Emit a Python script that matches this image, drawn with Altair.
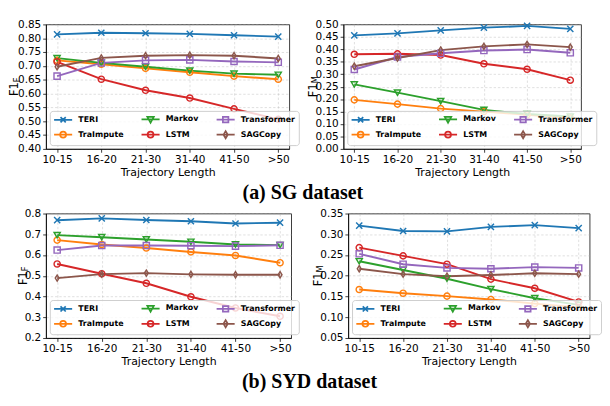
import altair as alt
import pandas as pd

categories = ["10-15", "16-20", "21-30", "31-40", "41-50", ">50"]
series = ["TERI", "TraImpute", "Markov", "LSTM", "Transformer", "SAGCopy"]
series_colors = ["#1f77b4", "#ff7f0e", "#2ca02c", "#d62728", "#9467bd", "#8c564b"]

sg_f1f = {
    "TERI": [0.814, 0.820, 0.818, 0.816, 0.811, 0.806],
    "TraImpute": [0.720, 0.706, 0.691, 0.677, 0.663, 0.652],
    "Markov": [0.728, 0.711, 0.697, 0.683, 0.672, 0.668],
    "LSTM": [0.715, 0.652, 0.612, 0.584, 0.545, 0.507],
    "Transformer": [0.663, 0.711, 0.720, 0.722, 0.716, 0.713],
    "SAGCopy": [0.697, 0.729, 0.737, 0.739, 0.737, 0.727],
}
sg_f1m = {
    "TERI": [0.456, 0.464, 0.476, 0.487, 0.494, 0.482],
    "TraImpute": [0.197, 0.180, 0.162, 0.150, 0.137, 0.124],
    "Markov": [0.259, 0.226, 0.192, 0.157, 0.140, 0.130],
    "LSTM": [0.380, 0.382, 0.377, 0.342, 0.320, 0.276],
    "Transformer": [0.319, 0.369, 0.384, 0.395, 0.399, 0.386],
    "SAGCopy": [0.332, 0.365, 0.397, 0.412, 0.420, 0.409],
}
syd_f1f = {
    "TERI": [0.768, 0.777, 0.769, 0.763, 0.752, 0.756],
    "TraImpute": [0.672, 0.651, 0.634, 0.615, 0.598, 0.563],
    "Markov": [0.696, 0.686, 0.675, 0.664, 0.651, 0.648],
    "LSTM": [0.557, 0.510, 0.464, 0.399, 0.345, 0.305],
    "Transformer": [0.624, 0.646, 0.646, 0.645, 0.643, 0.647],
    "SAGCopy": [0.489, 0.508, 0.513, 0.507, 0.505, 0.505],
}
syd_f1m = {
    "TERI": [0.321, 0.308, 0.307, 0.318, 0.322, 0.315],
    "TraImpute": [0.167, 0.158, 0.151, 0.143, 0.133, 0.124],
    "Markov": [0.235, 0.214, 0.193, 0.168, 0.146, 0.130],
    "LSTM": [0.268, 0.248, 0.228, 0.192, 0.170, 0.137],
    "Transformer": [0.253, 0.228, 0.219, 0.217, 0.221, 0.219],
    "SAGCopy": [0.217, 0.204, 0.199, 0.202, 0.206, 0.204],
}

y_ticks_sg_f = [0.40, 0.45, 0.50, 0.55, 0.60, 0.65, 0.70, 0.75, 0.80, 0.85]
y_ticks_sg_m = [0.00, 0.05, 0.10, 0.15, 0.20, 0.25, 0.30, 0.35, 0.40, 0.45, 0.50]
y_ticks_syd_f = [0.2, 0.3, 0.4, 0.5, 0.6, 0.7, 0.8]
y_ticks_syd_m = [0.05, 0.10, 0.15, 0.20, 0.25, 0.30, 0.35]

x_title = "Trajectory Length"
captions = ["(a) SG dataset", "(b) SYD dataset"]
y_main = "F1"
y_subs = ["F", "M"]

# marker shapes (style)
marker_paths = {
    "TERI": "M-1,-1L1,1M-1,1L1,-1",
    "TraImpute": "circle",
    "Markov": "triangle-down",
    "LSTM": "circle",
    "Transformer": "square",
    "SAGCopy": "M0,-1L0.62,0L0,1L-0.62,0Z",
}
# legend symbols: a line segment with the marker in the middle
LINE = "M-1.9,0L1.9,0"
CIRC = "M0.62,0A0.62,0.62,0,1,1,-0.62,0A0.62,0.62,0,1,1,0.62,0"
legend_paths = {
    "TERI": LINE + "M-0.55,-0.55L0.55,0.55M-0.55,0.55L0.55,-0.55",
    "TraImpute": LINE + CIRC,
    "Markov": LINE + "M-0.68,-0.55L0.68,-0.55L0,0.68Z",
    "LSTM": LINE + CIRC,
    "Transformer": LINE + "M-0.58,-0.58L0.58,-0.58L0.58,0.58L-0.58,0.58Z",
    "SAGCopy": LINE + "M0,-0.75L0.45,0L0,0.75L-0.45,0Z",
}

stroke_scale = alt.Scale(domain=series, range=series_colors)
color_scale = alt.Scale(domain=series, range=series_colors)
shape_scale = alt.Scale(domain=series, range=[legend_paths[s] for s in series])


def to_df(vals):
    rows = []
    for s in series:
        for c, v in zip(categories, vals[s]):
            rows.append({"series": s, "cat": c, "val": v})
    return pd.DataFrame(rows)


def make_legend():
    return alt.Legend(
        title=None, orient="bottom-left", offset=4, columns=3,
        labelFont="DejaVu Sans", labelFontWeight="bold", labelFontSize=8.3,
        labelColor="black", labelOffset=10, symbolSize=100, symbolStrokeWidth=1.8,
        symbolOffset=5, columnPadding=14, rowPadding=1, padding=3,
        fillColor="rgba(255,255,255,0.8)", strokeColor="#cccccc", cornerRadius=3,
    )


def panel(vals, ticks, fmt, sub, width, height, title_x):
    df = to_df(vals)
    x = alt.X("cat:N", sort=categories,
              scale=alt.Scale(type="point", padding=0.25, domain=categories),
              axis=alt.Axis(title=x_title, labelAngle=0, grid=True, titlePadding=2))
    y = alt.Y("val:Q", scale=alt.Scale(domain=[ticks[0], ticks[-1]], nice=False, zero=False),
              axis=alt.Axis(values=ticks, format=fmt, title=None, grid=True))
    stroke = alt.Stroke("series:N", scale=stroke_scale, legend=None)
    base = alt.Chart(df)
    lines = base.mark_line(strokeWidth=2).encode(x=x, y=y, stroke=stroke)
    pts = [
        base.transform_filter(alt.datum.series == s)
        .mark_point(shape=marker_paths[s], filled=False, size=42, strokeWidth=1.5, opacity=1)
        .encode(x=x, y=y, stroke=stroke)
        for s in series
    ]
    leg = base.transform_filter("false").mark_point(filled=False, opacity=1).encode(
        x=x, y=y,
        color=alt.Color("series:N", scale=color_scale, legend=make_legend()),
        shape=alt.Shape("series:N", scale=shape_scale, legend=make_legend()),
    )
    sub_len = 5.0 if sub == "F" else 7.5
    total = 14.5 + sub_len
    start = height / 2 + total / 2
    t_main = alt.Chart(pd.DataFrame({"t": [y_main]})).mark_text(
        angle=270, align="left", baseline="middle", font="DejaVu Sans", fontSize=12, color="black"
    ).encode(x=alt.value(title_x), y=alt.value(start), text="t:N")
    t_sub = alt.Chart(pd.DataFrame({"t": [sub]})).mark_text(
        angle=270, align="left", baseline="middle", font="DejaVu Sans", fontSize=8.5, color="black"
    ).encode(x=alt.value(title_x + 2.5), y=alt.value(start - 14.5), text="t:N")
    return alt.layer(lines, *pts, leg, t_main, t_sub).properties(width=width, height=height)


def cap(text):
    return alt.TitleParams(text, orient="bottom", anchor="middle", frame="bounds",
                           font="Liberation Serif", fontSize=21, fontWeight="bold",
                           color="black", offset=5)


p1 = panel(sg_f1f, y_ticks_sg_f, ".2f", y_subs[0], 256, 131, -33)
p2 = panel(sg_f1m, y_ticks_sg_m, ".2f", y_subs[1], 250, 131, -32)
p3 = panel(syd_f1f, y_ticks_syd_f, ".1f", y_subs[0], 258, 131, -24)
p4 = panel(syd_f1m, y_ticks_syd_m, ".2f", y_subs[1], 254, 131, -32)

row1 = alt.hconcat(p1, p2, spacing=57, bounds="flush").properties(
    title=cap(captions[0])).resolve_legend(color="independent", shape="independent")
row2 = alt.hconcat(p3, p4, spacing=60, bounds="flush").properties(
    title=cap(captions[1])).resolve_legend(color="independent", shape="independent")

chart = alt.vconcat(row1, row2, spacing=4, bounds="full").properties(
    padding={"left": 0, "top": 0, "right": 0, "bottom": 0}
).resolve_legend(color="independent", shape="independent").configure_view(
    stroke="black", strokeWidth=0.8).configure_axis(
    labelFont="DejaVu Sans", labelFontSize=11, labelColor="black", labelPadding=2,
    titleFont="DejaVu Sans", titleFontSize=11.5, titleColor="black", titleFontWeight="normal",
    domainColor="black", domainWidth=0.8, tickColor="black", tickSize=3.5, tickWidth=0.8,
    gridColor="#b0b0b0", gridDash=[2.5, 2], gridWidth=0.6, gridOpacity=0.7,
)

chart.save("out.html", embed_options={"renderer": "svg", "actions": False})
